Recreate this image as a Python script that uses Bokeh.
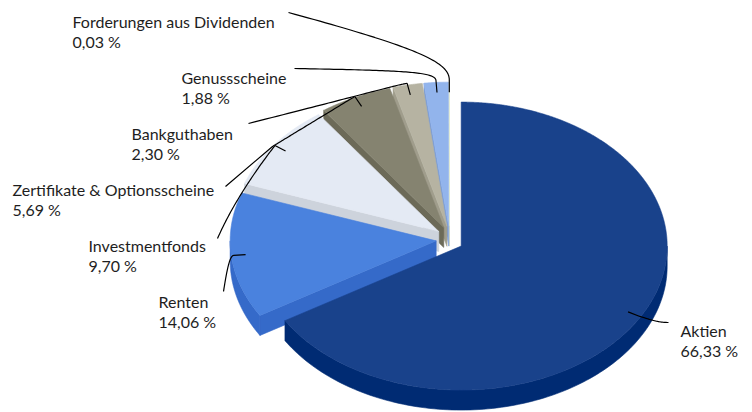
import numpy as np
from bokeh.plotting import figure
from bokeh.models import Range1d, ColumnDataSource
from bokeh.embed import file_html
from bokeh.resources import INLINE
from bokeh.core.properties import value

# ---------------- data ----------------
categories = ["Aktien", "Renten", "Investmentfonds", "Zertifikate & Optionsscheine",
              "Bankguthaben", "Genussscheine", "Forderungen aus Dividenden"]
shares = [66.33, 14.06, 9.70, 5.69, 2.30, 1.88, 0.03]
top_colors = ["#19428B", "#4A82DE", "#E4EAF4", "#858370", "#B6B3A2", "#92B4EC", "#E3EDD6"]
side_colors = ["#002B73", "#356AC9", "#CDD3DC", "#6C6A58", "#A09D8C", "#7C9DD6", "#C9D3BE"]

# ---------------- layout ----------------
W, H = 752, 412
CX, CY, RX, RY, DEPTH, EXPLODE = 449, 239, 206, 144, 20, 13.4
FONT = "Lato"
FSIZE = "16px"
LINE_GAP = 20
# label text position (left x, first baseline y)
label_pos = [(680, 330), (158, 301), (88, 245), (12, 189), (131, 133), (181, 77), (72, 21)]
# leader curves: (C1, C2, P3) from elbow to label side
leader_ctrl = [
    ((647, 318), (656, 322), (668, 322)),
    ((229, 255), (226, 272), (223, 291)),
    ((274, 146), (238, 190), (217, 238)),
    ((308, 124), (272, 146), (272, 146)),
    ((398, 84), (370, 92), (248, 123)),
    ((435, 71), (400, 70), (294, 68)),
    ((449, 62), (420, 48), (288, 12)),
]
extra_tail = {3: (225, 186)}

p = figure(width=W, height=H, x_range=Range1d(0, W), y_range=Range1d(H, 0),
           x_axis_type=None, y_axis_type=None, toolbar_location=None,
           output_backend="svg", min_border=0)
p.grid.visible = False
p.outline_line_color = None
p.background_fill_color = "white"

n = len(shares)
total = sum(shares)
bounds = np.concatenate([[0.0], np.cumsum(shares)]) / total * 2 * np.pi


def pt(c, th, r=1.0):
    return c[0] + RX * r * np.sin(th), c[1] - RY * r * np.cos(th)


centers = []
for i in range(n):
    m = (bounds[i] + bounds[i + 1]) / 2
    centers.append((CX + EXPLODE * np.sin(m), CY - EXPLODE * np.cos(m)))

xs, ys, fc = [], [], []
for i in reversed(range(n)):
    a, b = bounds[i], bounds[i + 1]
    c = centers[i]
    faces = []
    if np.sin(a) < -1e-9:
        faces.append(a)
    if np.sin(b) > 1e-9:
        faces.append(b)
    for t in faces:
        x1, y1 = pt(c, t)
        xs.append([c[0], x1, x1, c[0]])
        ys.append([c[1], y1, y1 + DEPTH, c[1] + DEPTH])
        fc.append(side_colors[i])
    lo, hi = max(a, np.pi / 2), min(b, 3 * np.pi / 2)
    if hi > lo:
        th = np.linspace(lo, hi, 120)
        xt, yt = pt(c, th)
        xs.append(list(xt) + list(xt[::-1]))
        ys.append(list(yt) + list((yt + DEPTH)[::-1]))
        fc.append(side_colors[i])
    th = np.linspace(a, b, max(3, int((b - a) / 0.005)))
    xt, yt = pt(c, th)
    xs.append([c[0]] + list(xt))
    ys.append([c[1]] + list(yt))
    fc.append(top_colors[i])

p.patches(xs="xs", ys="ys", fill_color="fc", line_color="fc", line_width=0.6,
          source=ColumnDataSource(dict(xs=xs, ys=ys, fc=fc)))

# leader lines
lx, ly = [], []
tt = np.linspace(0, 1, 60)
for i in range(n):
    m = (bounds[i] + bounds[i + 1]) / 2
    c = centers[i]
    ax, ay = pt(c, m, 0.93)
    d = np.array([RX * np.sin(m), -RY * np.cos(m)])
    d = d / np.hypot(*d)
    ex, ey = ax + 12 * d[0], ay + 12 * d[1]
    (c1x, c1y), (c2x, c2y), (p3x, p3y) = leader_ctrl[i]
    bx = (1 - tt) ** 3 * ex + 3 * (1 - tt) ** 2 * tt * c1x + 3 * (1 - tt) * tt ** 2 * c2x + tt ** 3 * p3x
    by = (1 - tt) ** 3 * ey + 3 * (1 - tt) ** 2 * tt * c1y + 3 * (1 - tt) * tt ** 2 * c2y + tt ** 3 * p3y
    px = [ax] + list(bx)
    py = [ay] + list(by)
    if i in extra_tail:
        px.append(extra_tail[i][0])
        py.append(extra_tail[i][1])
    lx.append(px)
    ly.append(py)
p.multi_line(xs=lx, ys=ly, line_color="black", line_width=1.2)

# labels
tx, ty, txt = [], [], []
for i in range(n):
    x0, y0 = label_pos[i]
    tx += [x0, x0]
    ty += [y0, y0 + LINE_GAP]
    txt += [categories[i], f"{shares[i]:.2f}".replace(".", ",") + " %"]
p.text(x="x", y="y", text="t", source=ColumnDataSource(dict(x=tx, y=ty, t=txt)),
       text_font=value(FONT), text_font_size=FSIZE, text_color="#1E1E1E",
       text_baseline="alphabetic", text_align="left")

open("out.html", "w").write(file_html(p, INLINE))
